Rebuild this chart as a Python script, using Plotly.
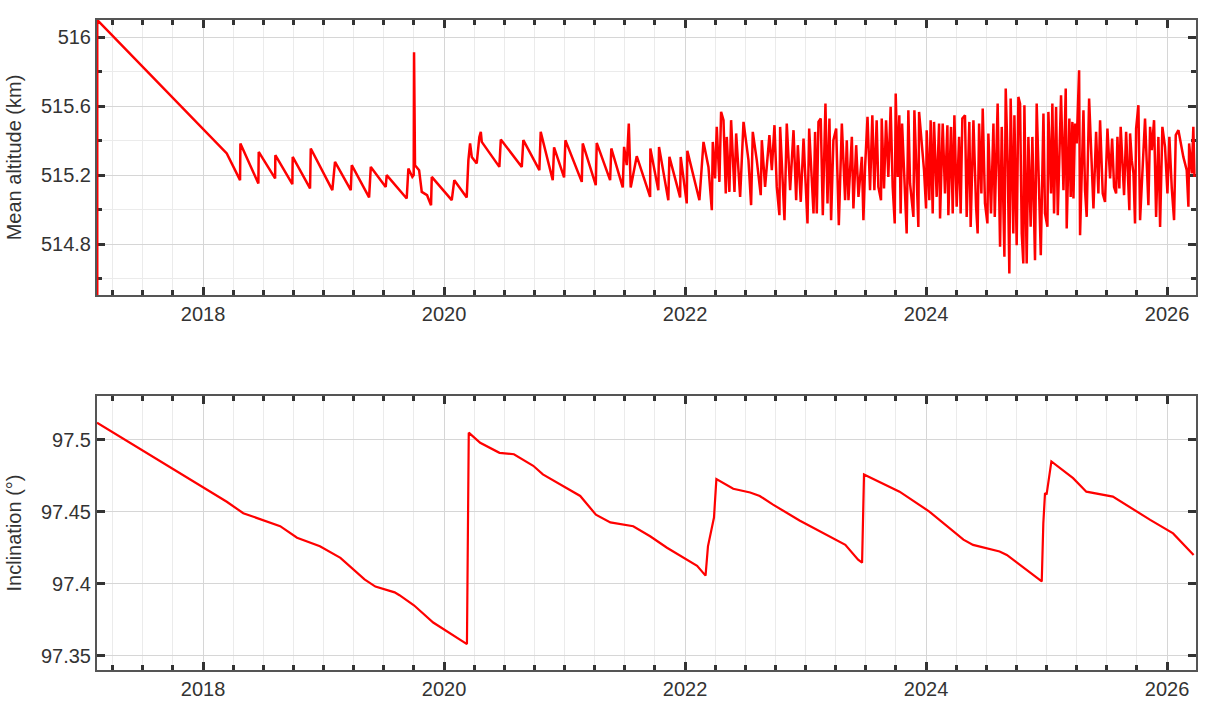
import plotly.graph_objects as go
from plotly.subplots import make_subplots

# ---------------- Mean altitude (km) ----------------
alt_year = [
    2017.122, 2017.122, 2018.197, 2018.307, 2018.310, 2018.459, 2018.462, 2018.598, 2018.600,
    2018.741, 2018.744, 2018.888, 2018.894, 2019.073, 2019.095, 2019.226, 2019.234,
    2019.378, 2019.392, 2019.516, 2019.524, 2019.690, 2019.704, 2019.737, 2019.748,
    2019.751, 2019.759, 2019.793, 2019.815, 2019.859, 2019.892, 2019.898, 2020.064,
    2020.085, 2020.188, 2020.202, 2020.216, 2020.230, 2020.271, 2020.293, 2020.305,
    2020.313, 2020.459, 2020.471, 2020.645, 2020.658, 2020.791, 2020.802, 2020.902,
    2020.913, 2020.996, 2021.007, 2021.143, 2021.151, 2021.259, 2021.267, 2021.378,
    2021.388, 2021.483, 2021.494, 2021.516, 2021.533, 2021.549, 2021.599, 2021.710,
    2021.712, 2021.778, 2021.784, 2021.861, 2021.870, 2021.959, 2021.964, 2022.014,
    2022.019, 2022.119,
    2022.153, 2022.194, 2022.222, 2022.230, 2022.249, 2022.263, 2022.285, 2022.299,
    2022.319, 2022.338, 2022.346, 2022.368, 2022.382, 2022.410, 2022.424, 2022.457,
    2022.485, 2022.512, 2022.526, 2022.548, 2022.562, 2022.595, 2022.628, 2022.637,
    2022.664, 2022.700, 2022.720, 2022.742, 2022.761, 2022.783, 2022.789, 2022.825,
    2022.844, 2022.872, 2022.900, 2022.922, 2022.936, 2022.960, 2022.983, 2023.016,
    2023.030, 2023.066, 2023.079, 2023.093, 2023.107, 2023.126, 2023.143, 2023.165,
    2023.182, 2023.198, 2023.212, 2023.231, 2023.254, 2023.276, 2023.301, 2023.328,
    2023.342, 2023.356, 2023.384, 2023.397, 2023.420, 2023.439, 2023.467, 2023.480,
    2023.494, 2023.514,
    2023.535, 2023.554, 2023.571, 2023.590, 2023.604, 2023.626, 2023.632, 2023.651,
    2023.668, 2023.687, 2023.706, 2023.723, 2023.740, 2023.748, 2023.765, 2023.778,
    2023.789, 2023.801, 2023.817, 2023.839, 2023.853, 2023.867, 2023.895, 2023.903,
    2023.922, 2023.936, 2023.942, 2023.964, 2023.983, 2024.000, 2024.005, 2024.027,
    2024.038, 2024.055, 2024.066, 2024.088, 2024.108, 2024.116, 2024.138, 2024.157,
    2024.177, 2024.185, 2024.207, 2024.221, 2024.235, 2024.254, 2024.274, 2024.287,
    2024.301, 2024.323, 2024.337, 2024.359, 2024.370, 2024.393, 2024.415, 2024.428,
    2024.440, 2024.459, 2024.470, 2024.489, 2024.509, 2024.517, 2024.539, 2024.559,
    2024.570, 2024.594, 2024.614, 2024.628, 2024.650, 2024.661, 2024.677, 2024.691,
    2024.702, 2024.724, 2024.733, 2024.752, 2024.766, 2024.780, 2024.794, 2024.807,
    2024.816, 2024.835, 2024.849, 2024.868, 2024.882, 2024.904, 2024.918, 2024.940,
    2024.952, 2024.974, 2024.987, 2025.007, 2025.015, 2025.037, 2025.048, 2025.062,
    2025.079, 2025.093, 2025.106, 2025.120, 2025.140, 2025.159, 2025.167, 2025.189,
    2025.200, 2025.214, 2025.223, 2025.236, 2025.250, 2025.270, 2025.278, 2025.306,
    2025.319, 2025.333, 2025.353, 2025.375, 2025.389, 2025.411, 2025.430, 2025.444,
    2025.466, 2025.485, 2025.505, 2025.527, 2025.544, 2025.560, 2025.577, 2025.588,
    2025.604, 2025.615, 2025.643, 2025.660, 2025.687, 2025.693, 2025.707, 2025.721,
    2025.734, 2025.743, 2025.762, 2025.776, 2025.804, 2025.817, 2025.845, 2025.859,
    2025.873, 2025.892, 2025.909, 2025.928, 2025.942, 2025.961, 2025.983, 2026.003,
    2026.019, 2026.039, 2026.058, 2026.072, 2026.094, 2026.135, 2026.163, 2026.177,
    2026.183, 2026.205, 2026.218, 2026.227,
]
alt_km = [
    514.30, 516.10, 515.326, 515.171, 515.384, 515.152, 515.335, 515.181, 515.316,
    515.148, 515.306, 515.123, 515.355, 515.113, 515.277, 515.113, 515.258,
    515.071, 515.248, 515.132, 515.200, 515.065, 515.239, 515.190, 515.200,
    515.913, 515.258, 515.229, 515.103, 515.084, 515.026, 515.190, 515.055,
    515.171, 515.071, 515.287, 515.384, 515.306, 515.268, 515.422, 515.451,
    515.393, 515.248, 515.407, 515.248, 515.403, 515.229, 515.451, 515.171,
    515.361, 515.187, 515.403, 515.161, 515.384, 515.142, 515.387, 515.171,
    515.355, 515.129, 515.364, 515.258, 515.500, 515.129, 515.310, 515.074,
    515.355, 515.113, 515.364, 515.055, 515.306, 515.071, 515.306, 515.036,
    515.341, 515.055,
    515.393, 515.248, 514.997, 515.393, 515.181, 515.480, 515.161, 515.567,
    515.519, 515.094, 515.422, 515.103, 515.519, 515.103, 515.442, 515.074,
    515.509, 515.364, 515.287, 515.026, 515.451, 515.287, 515.084, 515.403,
    515.132, 515.432, 515.229, 515.490, 515.132, 514.968, 515.480, 514.939,
    515.500, 515.113, 515.461, 515.055, 515.374, 515.045, 515.413, 514.920,
    515.471, 514.978, 515.451, 514.978, 515.509, 515.529, 514.968, 515.615,
    515.036, 515.529, 514.939, 515.403, 515.471, 514.910, 515.500, 515.055,
    515.403, 515.055, 515.422, 515.007, 515.374, 515.074, 515.306, 514.939,
    515.248, 515.538,
    515.113, 515.548, 515.113, 515.519, 515.132, 515.055, 515.529, 515.123,
    515.519, 515.190, 515.596, 515.132, 514.920, 515.673, 515.190, 515.548,
    514.978, 515.500, 515.229, 514.862, 515.577, 515.152, 514.958, 515.577,
    515.190, 514.900, 515.567, 515.403, 515.229, 515.007, 515.461, 515.055,
    515.519, 514.978, 515.509, 515.074, 515.500, 514.949, 515.500, 515.094,
    515.490, 514.968, 515.480, 514.978, 515.548, 515.017, 515.422, 514.978,
    515.529, 515.548, 514.958, 515.509, 514.900, 515.519, 515.017, 514.862,
    515.500, 515.094, 515.586, 515.036, 514.920, 515.442, 514.978, 515.500,
    514.958, 515.615, 514.785, 515.480, 514.727, 515.702, 515.287, 514.630,
    515.644, 514.862, 515.548, 514.794, 515.654, 515.615, 514.862, 514.688,
    515.606, 514.688, 515.422, 514.901, 515.422, 514.707, 515.615, 515.055,
    514.736, 515.557, 514.978, 514.901, 515.567, 515.094, 515.615, 514.978,
    515.596, 514.968, 515.364, 515.664, 515.113, 515.702, 514.891, 515.529,
    515.074, 515.509, 515.065, 515.500, 515.384, 515.809, 514.852, 515.577,
    515.113, 514.958, 515.644, 515.190, 515.007, 515.451, 515.094, 515.519,
    515.094, 515.045, 515.471, 515.181, 515.413, 515.132, 515.094, 515.422,
    515.123, 515.480, 515.084, 515.451, 514.997, 515.442, 515.287, 515.210,
    514.920, 515.471, 515.606, 514.939, 515.413, 515.529, 515.026, 515.480,
    515.345, 515.519, 514.958, 515.422, 514.900, 515.480, 515.364, 515.094,
    515.422, 515.123, 514.939, 515.432, 515.461, 515.306, 515.229, 515.017,
    515.384, 515.210, 515.480, 515.190,
]

# ---------------- Inclination (deg) ----------------
inc_year = [
    2017.12, 2018.197, 2018.334, 2018.53, 2018.64, 2018.78, 2018.97, 2019.14, 2019.34,
    2019.43, 2019.59, 2019.63, 2019.75, 2019.91, 2020.19, 2020.20, 2020.205, 2020.30,
    2020.46, 2020.58, 2020.74, 2020.82, 2020.99, 2021.13, 2021.26, 2021.38, 2021.57,
    2021.71, 2021.85, 2022.01, 2022.10, 2022.17, 2022.19, 2022.24, 2022.26, 2022.40,
    2022.54, 2022.62, 2022.73, 2022.95, 2023.33, 2023.436, 2023.469, 2023.485,
    2023.78, 2024.03, 2024.31, 2024.39, 2024.61, 2024.67, 2024.96, 2024.973,
    2024.987, 2025.00, 2025.04, 2025.22, 2025.33, 2025.55, 2025.72, 2025.86,
    2026.05, 2026.22,
]
inc_deg = [
    97.512, 97.457, 97.449, 97.443, 97.440, 97.432, 97.426, 97.418, 97.403,
    97.398, 97.394, 97.392, 97.385, 97.373, 97.358, 97.456, 97.505, 97.498,
    97.491, 97.490, 97.482, 97.476, 97.468, 97.461, 97.448, 97.4426, 97.440,
    97.433, 97.425, 97.417, 97.4125, 97.4056, 97.426, 97.446, 97.4727, 97.466,
    97.4634, 97.461, 97.455, 97.444, 97.427, 97.4167, 97.4146, 97.476,
    97.464, 97.450, 97.4306, 97.427, 97.4224, 97.420, 97.4016, 97.442,
    97.463, 97.462, 97.485, 97.4734, 97.464, 97.4606, 97.4514, 97.4444,
    97.435, 97.420,
]

x_range = [2017.12, 2026.24]
alt_range = [514.505, 516.10]
inc_range = [97.34, 97.5305]

FONT = "Arial, Liberation Sans, sans-serif"

fig = make_subplots(rows=2, cols=1, vertical_spacing=0.155)

fig.add_trace(go.Scatter(x=alt_year, y=alt_km, mode="lines",
                         line=dict(color="#ff0000", width=2.5), showlegend=False),
              row=1, col=1)
fig.add_trace(go.Scatter(x=inc_year, y=inc_deg, mode="lines",
                         line=dict(color="#ff0000", width=2.2), showlegend=False),
              row=2, col=1)

tick_font = dict(family=FONT, size=20, color="#333333")
title_font = dict(family=FONT, size=20, color="#333333")
axis_common = dict(
    showline=True, linecolor="#555555", linewidth=2, mirror="ticks",
    ticks="inside", ticklen=8, tickwidth=2.5, tickcolor="#333333",
    showgrid=True, gridcolor="#d6d6d6", gridwidth=1,
    zeroline=False, tickfont=tick_font,
)

xaxis_cfg = dict(axis_common, range=x_range, tick0=2018, dtick=2, tickformat="d",
                 minor=dict(dtick=0.25, tick0=2018, ticks="inside", ticklen=5,
                            tickwidth=2.5, tickcolor="#333333",
                            showgrid=True, gridcolor="#ebebeb", gridwidth=1))
fig.update_xaxes(**xaxis_cfg, row=1, col=1)
fig.update_xaxes(**xaxis_cfg, row=2, col=1)

fig.update_yaxes(axis_common, range=alt_range, tick0=516, dtick=0.4,
                 layer="below traces",
                 minor=dict(dtick=0.2, tick0=516, ticks="inside", ticklen=5,
                            tickwidth=2.5, tickcolor="#333333",
                            showgrid=True, gridcolor="#ebebeb", gridwidth=1),
                 title=dict(text="Mean altitude (km)", font=title_font, standoff=14),
                 row=1, col=1)
fig.update_yaxes(axis_common, range=inc_range, tick0=97.35, dtick=0.05,
                 title=dict(text="Inclination (°)", font=title_font, standoff=14),
                 row=2, col=1)

fig.update_layout(
    width=1207, height=712,
    margin=dict(l=97, r=11, t=20, b=42, autoexpand=False),
    paper_bgcolor="white", plot_bgcolor="white",
)
fig.update_layout(yaxis=dict(domain=[0.5769, 1.0]), yaxis2=dict(domain=[0.0, 0.4215]))

fig.write_html("out.html", config={"displayModeBar": False},
               post_script="document.body.style.margin='0';document.body.style.padding='0';")
